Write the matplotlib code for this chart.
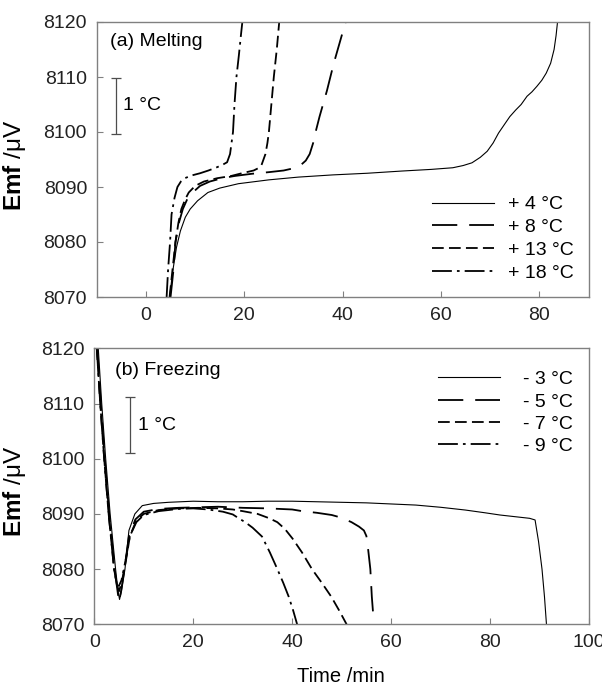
import numpy as np
import matplotlib.pyplot as plt

plt.rcParams['font.family'] = ['Liberation Sans', 'DejaVu Sans']
plt.rcParams['mathtext.fontset'] = 'custom'
plt.rcParams['mathtext.rm'] = 'Liberation Sans'
plt.rcParams['mathtext.bf'] = 'Liberation Sans:bold'

# (a) melting, values: time in min, emf in uV
m4_t = [4.8, 5.5, 6.2, 7.0, 8.0, 9.0, 10.5, 12.6, 15.0, 18.8, 25.0, 31.0, 38.0, 45.0, 52.0, 58.0,
        62.4, 64.5, 66.3, 68.0, 69.4, 70.6, 71.7, 73.0, 74.0, 75.2, 76.3, 77.5, 78.5, 79.5, 80.5,
        81.4, 82.3, 83.0, 83.4, 83.7]
m4_e = [8070, 8075, 8079, 8082, 8084.5, 8086, 8087.5, 8089, 8089.8, 8090.6, 8091.3, 8091.8, 8092.2,
        8092.5, 8092.9, 8093.2, 8093.5, 8093.9, 8094.4, 8095.4, 8096.5, 8098.0, 8099.8, 8101.5,
        8102.8, 8104.0, 8105.0, 8106.5, 8107.3, 8108.3, 8109.4, 8110.7, 8112.5, 8115.0, 8117.5, 8120]

m8_t = [5.0, 5.6, 6.0, 6.7, 7.5, 8.4, 9.5, 11.0, 13.0, 15.5, 18.0, 21.5, 25.0, 28.0, 29.5, 30.5,
        31.5, 32.5, 33.3, 34.0, 34.5, 35.3, 36.0, 36.8, 37.5, 38.2, 39.0, 39.8, 40.6]
m8_e = [8070, 8075, 8080, 8083.5, 8086, 8087.8, 8089, 8090.2, 8091, 8091.6, 8092, 8092.4, 8092.7,
        8093.0, 8093.3, 8093.6, 8094.0, 8094.8, 8096.0, 8098.0, 8100, 8102.8, 8105, 8107.5, 8110,
        8112.5, 8115, 8117.5, 8120]

m13_t = [4.8, 5.4, 6.0, 6.6, 7.2, 8.0, 8.7, 10.0, 11.8, 14.5, 17.3, 19.5, 21.9, 22.8, 23.5, 24.3,
         24.7, 25.0, 25.5, 26.0, 26.6, 27.1]
m13_e = [8070, 8075, 8080, 8083.5, 8086, 8087.8, 8089, 8090.2, 8091, 8091.6, 8092, 8092.5, 8093,
         8093.4, 8094, 8096, 8098, 8100, 8105, 8110, 8115, 8120]

m18_t = [4.2, 4.5, 4.9, 5.2, 5.8, 6.4, 7.1, 7.9, 9.3, 11.0, 12.7, 14.2, 15.5, 16.5, 17.1, 17.4,
         17.7, 18.0, 18.4, 18.9, 19.3, 19.6]
m18_e = [8070, 8075, 8080, 8085, 8088, 8090, 8091, 8091.6, 8092.1, 8092.5, 8093, 8093.5, 8094,
         8094.5, 8096, 8098, 8100, 8105, 8110, 8114, 8117.5, 8120]

# (b) freezing
f3_t = [0.8, 1.5, 2.3, 3.2, 4.3, 4.8, 5.1, 5.5, 6.2, 7.0, 8.2, 9.7, 12.0, 15.0, 20.0, 25.0, 30.0,
        35.0, 40.0, 45.0, 50.0, 55.0, 60.0, 65.0, 70.0, 75.0, 79.0, 82.0, 85.0, 88.0, 89.1, 89.8,
        90.5, 91.0, 91.4]
f3_e = [8120, 8110, 8100, 8090, 8080, 8076, 8074.5, 8076, 8080, 8087, 8090, 8091.5, 8091.9, 8092.1,
        8092.3, 8092.2, 8092.2, 8092.3, 8092.3, 8092.2, 8092.1, 8092.0, 8091.8, 8091.6, 8091.2,
        8090.7, 8090.2, 8089.8, 8089.5, 8089.2, 8088.9, 8085, 8080, 8075, 8070]

f5_t = [0.6, 1.3, 2.1, 3.0, 4.1, 4.7, 5.0, 5.4, 6.1, 7.0, 8.3, 10.0, 13.0, 17.0, 21.0, 25.0, 30.0,
        35.0, 40.0, 42.0, 45.0, 48.0, 50.0, 52.0, 53.5, 54.5, 55.0, 55.3, 55.8, 56.1, 56.4]
f5_e = [8120, 8110, 8100, 8090, 8080, 8076, 8074, 8076, 8080, 8086, 8089, 8090.4, 8090.9, 8091.1,
        8091.2, 8091.3, 8091.1, 8091.0, 8090.8, 8090.5, 8090.2, 8089.8, 8089.3, 8088.5, 8087.7,
        8087.0, 8086.0, 8084, 8080, 8075, 8071.5]

f7_t = [0.5, 1.2, 2.0, 2.9, 4.0, 4.6, 5.0, 5.5, 6.3, 7.2, 8.5, 10.0, 13.0, 17.0, 21.0, 25.0, 28.0,
        30.0, 33.0, 35.4, 37.0, 38.5, 40.1, 42.0, 44.0, 46.0, 47.9, 49.5, 51.0]
f7_e = [8120, 8110, 8100, 8090, 8080, 8077, 8076, 8077.5, 8081, 8086, 8088.8, 8090, 8090.7, 8091,
        8091.1, 8091.0, 8090.8, 8090.5, 8090.0, 8089.2, 8088.5, 8087.3, 8085.5, 8083, 8080, 8077.5,
        8075, 8072.5, 8070]

f9_t = [0.5, 1.2, 2.0, 2.9, 4.0, 4.6, 5.0, 5.5, 6.3, 7.2, 8.5, 10.0, 13.0, 17.0, 20.0, 23.0, 26.0,
        28.0, 29.2, 30.5, 32.0, 33.9, 35.5, 37.0, 38.2, 39.3, 40.2, 41.0]
f9_e = [8120, 8110, 8100, 8090, 8080, 8077, 8077, 8078, 8081.5, 8086, 8088.5, 8089.8, 8090.5,
        8090.9, 8091.0, 8090.8, 8090.4, 8089.9, 8089.2, 8088.5, 8087.5, 8085.9, 8083, 8080, 8077.5,
        8075, 8072.5, 8070]

melt_labels = ['+ 4 °C', '+ 8 °C', '+ 13 °C', '+ 18 °C']
freeze_labels = ['- 3 °C', '- 5 °C', '- 7 °C', '- 9 °C']

styles = [dict(ls='-', lw=0.8),
          dict(ls=(0, (14, 6.6)), lw=1.3),
          dict(ls=(0, (6.5, 2.9)), lw=1.3),
          dict(ls=(0, (11, 2.8, 1.5, 2.8)), lw=1.3)]

fig = plt.figure(figsize=(6.02, 6.86), dpi=100)
ax1 = fig.add_axes([96.8 / 602, 1 - 297 / 686, 491.7 / 602, 275 / 686])
ax2 = fig.add_axes([94.3 / 602, 1 - 624.3 / 686, 494.7 / 602, 276 / 686])

grey = '#808080'
fs = 14
ylab = r'$\mathbf{Emf}$ /' + '\u03bcV'


def style_axes(ax):
    for s in ax.spines.values():
        s.set_color(grey)
        s.set_linewidth(1.0)
    ax.tick_params(axis='both', direction='in', length=4.5, color=grey, labelsize=fs,
                   labelcolor='#222222')
    ax.tick_params(axis='x', pad=7)
    ax.tick_params(axis='y', pad=7)
    ax.set_ylim(8070, 8120)
    ax.set_yticks([8070, 8080, 8090, 8100, 8110, 8120])
    ax.set_ylabel(ylab, fontsize=17.5)


melt = [(m4_t, m4_e), (m8_t, m8_e), (m13_t, m13_e), (m18_t, m18_e)]
for (t, e), lab, st in zip(melt, melt_labels, styles):
    ax1.plot(t, e, color='black', label=lab, **st)
style_axes(ax1)
ax1.yaxis.set_label_coords(-0.14, 0.48)
ax1.set_xlim(-10, 90)
ax1.set_xticks([0, 20, 40, 60, 80])
ax1.text(-7.4, 8116.4, '(a) Melting', fontsize=fs, va='center')
ax1.errorbar([-6.0], [8104.75], yerr=[5.15], color='0.3', capsize=3.6, lw=0.9, capthick=0.9)
ax1.text(-4.6, 8104.9, '1 °C', fontsize=fs, va='center')
ax1.legend(loc='upper left', frameon=False, fontsize=fs, handlelength=3.2,
           handletextpad=0.75, labelspacing=0.27, borderpad=0, borderaxespad=0,
           bbox_to_anchor=(0.681, 0.368))

freeze = [(f3_t, f3_e), (f5_t, f5_e), (f7_t, f7_e), (f9_t, f9_e)]
for (t, e), lab, st in zip(freeze, freeze_labels, styles):
    ax2.plot(t, e, color='black', label=lab, **st)
style_axes(ax2)
ax2.yaxis.set_label_coords(-0.135, 0.48)
ax2.set_xlim(0, 100)
ax2.set_xticks([0, 20, 40, 60, 80, 100])
ax2.set_xlabel('Time /min', fontsize=14.5)
ax2.xaxis.set_label_coords(0.498, -0.155)
ax2.text(4.2, 8116.0, '(b) Freezing', fontsize=fs, va='center')
ax2.errorbar([7.3], [8106.1], yerr=[5.1], color='0.3', capsize=3.6, lw=0.9, capthick=0.9)
ax2.text(8.9, 8106.0, '1 °C', fontsize=fs, va='center')
ax2.legend(loc='upper left', frameon=False, fontsize=fs, handlelength=3.2,
           handletextpad=1.2, labelspacing=0.24, borderpad=0, borderaxespad=0,
           bbox_to_anchor=(0.694, 0.919))

fig.savefig('out.png', dpi=100)
